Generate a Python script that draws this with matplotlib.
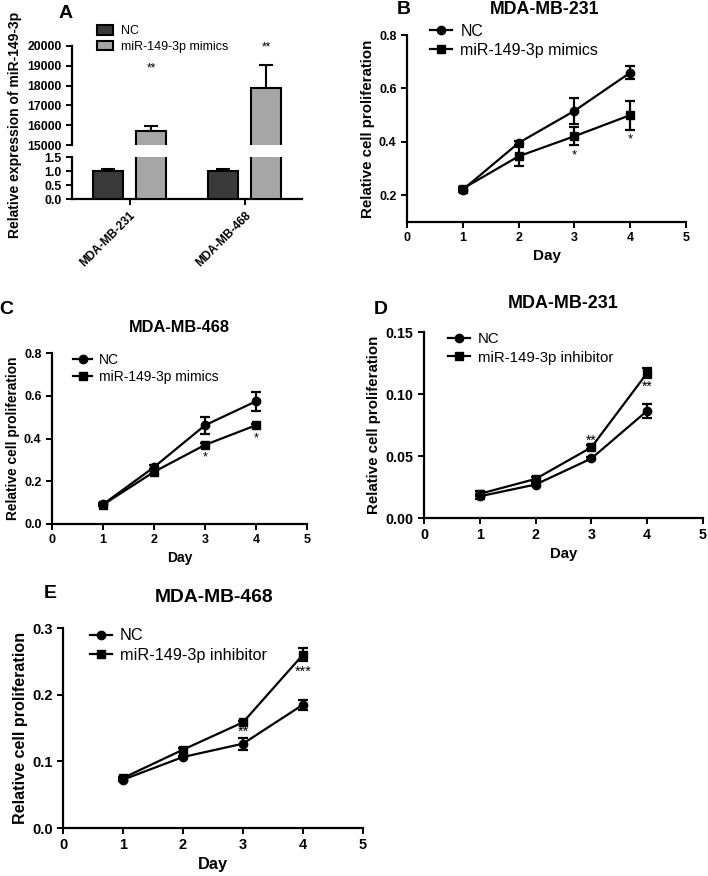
import numpy as np
import matplotlib
matplotlib.use('Agg')
import matplotlib.pyplot as plt
from matplotlib.lines import Line2D
from matplotlib.patches import Patch

plt.rcParams['font.family'] = ['Liberation Sans', 'DejaVu Sans']

W, H = 708, 876

# ── Panel A data ──────────────────────────────────────────────────────────────
cell_lines = ['MDA-MB-231', 'MDA-MB-468']
nc_expr = [1.0, 1.0]
nc_expr_err = [0.07, 0.08]
mimic_expr = [15730, 17900]
mimic_expr_err = [220, 1130]
a_stars = ['**', '**']
a_star_y = [18890, 19950]

# ── Line panels data ──────────────────────────────────────────────────────────
days = [1, 2, 3, 4]

b_nc = [0.221, 0.396, 0.516, 0.659]
b_nc_err = [0.008, 0.008, 0.048, 0.025]
b_mim = [0.225, 0.346, 0.421, 0.500]
b_mim_err = [0.006, 0.035, 0.033, 0.054]
b_stars = ['', '', '*', '*']
b_star_y = [0, 0, 0.35, 0.41]

c_nc = [0.092, 0.266, 0.462, 0.574]
c_nc_err = [0.005, 0.01, 0.04, 0.045]
c_mim = [0.090, 0.244, 0.370, 0.462]
c_mim_err = [0.005, 0.008, 0.008, 0.006]
c_stars = ['', '', '*', '*']
c_star_y = [0, 0, 0.31, 0.40]

d_nc = [0.0175, 0.027, 0.048, 0.0865]
d_nc_err = [0.002, 0.001, 0.001, 0.0055]
d_inh = [0.0195, 0.0315, 0.057, 0.117]
d_inh_err = [0.002, 0.0015, 0.0015, 0.004]
d_stars = ['', '', '**', '**']
d_star_y = [0, 0, 0.0625, 0.106]

e_nc = [0.0725, 0.1065, 0.1265, 0.185]
e_nc_err = [0.002, 0.002, 0.009, 0.0075]
e_inh = [0.075, 0.1175, 0.1585, 0.26]
e_inh_err = [0.002, 0.003, 0.002, 0.01]
e_stars = ['', '', '**', '***']
e_star_y = [0, 0, 0.144, 0.234]


def px_box(left, top, right, bottom):
    return [left / W, 1 - bottom / H, (right - left) / W, (bottom - top) / H]


def fx(x):
    return x / W


def fy(y):
    return 1 - y / H


fig = plt.figure(figsize=(W / 100, H / 100), dpi=100)


def style_spines(ax, lw=1.6):
    for s in ['top', 'right']:
        ax.spines[s].set_visible(False)
    for s in ['left', 'bottom']:
        ax.spines[s].set_linewidth(lw)
    ax.tick_params(width=1.4, length=4, direction='out')


# ── Panel A (broken y axis) ───────────────────────────────────────────────────
ax_up = fig.add_axes(px_box(72, 46, 302, 145))
ax_lo = fig.add_axes(px_box(72, 157, 302, 199))
xs = np.arange(len(cell_lines))
off, bw = 0.19, 0.26
for ax in (ax_up, ax_lo):
    ax.bar(xs - off, nc_expr, bw, color='#3a3a3a', edgecolor='black', lw=1.5, zorder=3)
    ax.bar(xs + off, mimic_expr, bw, color='#a6a6a6', edgecolor='black', lw=1.5, zorder=3)
    ax.errorbar(xs - off, nc_expr, yerr=[np.zeros(2), nc_expr_err], fmt='none',
                ecolor='black', elinewidth=1.5, capsize=5, capthick=1.5, zorder=2)
    ax.errorbar(xs + off, mimic_expr, yerr=[np.zeros(2), mimic_expr_err], fmt='none',
                ecolor='black', elinewidth=1.5, capsize=5, capthick=1.5, zorder=2)
    ax.set_xlim(-0.5, 1.5)
    style_spines(ax)
    ax.tick_params(labelsize=8.8)

ax_up.set_ylim(15000, 20000)
ax_up.set_yticks(np.arange(15000, 20001, 1000))
ax_up.set_yticklabels([str(v) for v in range(15000, 20001, 1000)], fontweight='bold')
ax_up.spines['bottom'].set_visible(False)
ax_up.set_xticks([])
ax_lo.set_ylim(0, 1.5)
ax_lo.set_yticks([0.0, 0.5, 1.0, 1.5])
ax_lo.set_yticklabels(['0.0', '0.5', '1.0', '1.5'], fontweight='bold')
ax_lo.set_xticks(xs)
ax_lo.set_xticklabels(cell_lines, rotation=45, ha='right', rotation_mode='anchor',
                      fontsize=8.5, fontweight='bold')
for i, s in enumerate(a_stars):
    ax_up.text(xs[i] + off, a_star_y[i], s, ha='center', va='center',
               fontsize=8.5, clip_on=False)
fig.text(fx(15), fy(125), 'Relative expression of miR-149-3p', rotation=90,
         ha='center', va='center', fontsize=10, fontweight='bold')
ax_up.legend(handles=[Patch(facecolor='#3a3a3a', edgecolor='black', lw=1.5, label='NC'),
                      Patch(facecolor='#a6a6a6', edgecolor='black', lw=1.5,
                            label='miR-149-3p mimics')],
             loc='upper left', bbox_to_anchor=(fx(97), fy(25)),
             bbox_transform=fig.transFigure, frameon=False, fontsize=9,
             borderpad=0, borderaxespad=0, handlelength=1.3, handleheight=0.8,
             handletextpad=0.6, labelspacing=0.3)


# ── Line panels ───────────────────────────────────────────────────────────────
def line_panel(box, nc, nc_err, tr, tr_err, tr_label, ylim, yticks, yfmt,
               stars, star_y, leg, tick_fs, lab_fs, day_fs, star_fs):
    ax = fig.add_axes(px_box(*box))
    ax.errorbar(days, nc, yerr=nc_err, color='black', lw=1.6, marker='o', ms=6,
                capsize=3.5, capthick=1.6, elinewidth=1.6, clip_on=False)
    ax.errorbar(days, tr, yerr=tr_err, color='black', lw=1.6, marker='s', ms=6.3,
                capsize=3.5, capthick=1.6, elinewidth=1.6, clip_on=False)
    ax.set_xlim(0, 5)
    ax.set_ylim(*ylim)
    ax.set_xticks(range(6))
    ax.set_yticks(yticks)
    ax.set_yticklabels([yfmt.format(v) for v in yticks], fontweight='bold')
    ax.set_xticklabels([str(v) for v in range(6)], fontweight='bold')
    style_spines(ax)
    ax.tick_params(labelsize=tick_fs)
    ax.set_xlabel('Day', fontsize=day_fs, fontweight='bold', labelpad=3)
    ax.set_ylabel('Relative cell proliferation', fontsize=lab_fs, fontweight='bold',
                  labelpad=3)
    for d, s, sy in zip(days, stars, star_y):
        if s:
            ax.text(d, sy, s, ha='center', va='center', fontsize=star_fs)
    lx, ly, lfs, lspace, hlen = leg
    handles = [Line2D([], [], color='black', lw=1.6, marker='o', ms=6, label='NC'),
               Line2D([], [], color='black', lw=1.6, marker='s', ms=6.3, label=tr_label)]
    ax.legend(handles=handles, loc='upper left', bbox_to_anchor=(fx(lx), fy(ly)),
              bbox_transform=fig.transFigure, frameon=False, fontsize=lfs,
              borderpad=0, borderaxespad=0, handlelength=hlen, handletextpad=0.5,
              labelspacing=lspace)
    return ax


line_panel((407, 35, 686, 222), b_nc, b_nc_err, b_mim, b_mim_err, 'miR-149-3p mimics',
           (0.1, 0.8), [0.2, 0.4, 0.6, 0.8], '{:.1f}', b_stars, b_star_y,
           (430, 24, 11.5, 0.22, 1.4), 9, 10.8, 11, 9.5)
line_panel((52, 353, 307, 524), c_nc, c_nc_err, c_mim, c_mim_err, 'miR-149-3p mimics',
           (0.0, 0.8), [0.0, 0.2, 0.4, 0.6, 0.8], '{:.1f}', c_stars, c_star_y,
           (73, 353, 10, 0.21, 1.37), 9, 9.9, 10, 9)
line_panel((424, 332, 703, 518), d_nc, d_nc_err, d_inh, d_inh_err, 'miR-149-3p inhibitor',
           (0.0, 0.15), [0.0, 0.05, 0.10, 0.15], '{:.2f}', d_stars, d_star_y,
           (448, 332, 10.8, 0.31, 1.47), 10.3, 10.8, 10.7, 10)
line_panel((63, 628, 363, 828), e_nc, e_nc_err, e_inh, e_inh_err, 'miR-149-3p inhibitor',
           (0.0, 0.3), [0.0, 0.1, 0.2, 0.3], '{:.1f}', e_stars, e_star_y,
           (90, 628.5, 11.7, 0.25, 1.35), 10.5, 11.6, 11.8, 10.5)

# ── Titles and panel letters ──────────────────────────────────────────────────
titles = [('MDA-MB-231', 545, 9, 12.8), ('MDA-MB-468', 179, 327, 11.8),
          ('MDA-MB-231', 563, 303, 12.9), ('MDA-MB-468', 214, 597, 13.9)]
for t, x, y, s in titles:
    fig.text(fx(x), fy(y), t, ha='center', va='center', fontsize=s, fontweight='bold')

letters = [('A', 66, 13), ('B', 404, 9), ('C', 6, 310), ('D', 381, 310), ('E', 50, 593)]
for t, x, y in letters:
    fig.text(fx(x), fy(y), t, ha='center', va='center', fontsize=14, fontweight='bold')

fig.savefig('out.png', dpi=100)
